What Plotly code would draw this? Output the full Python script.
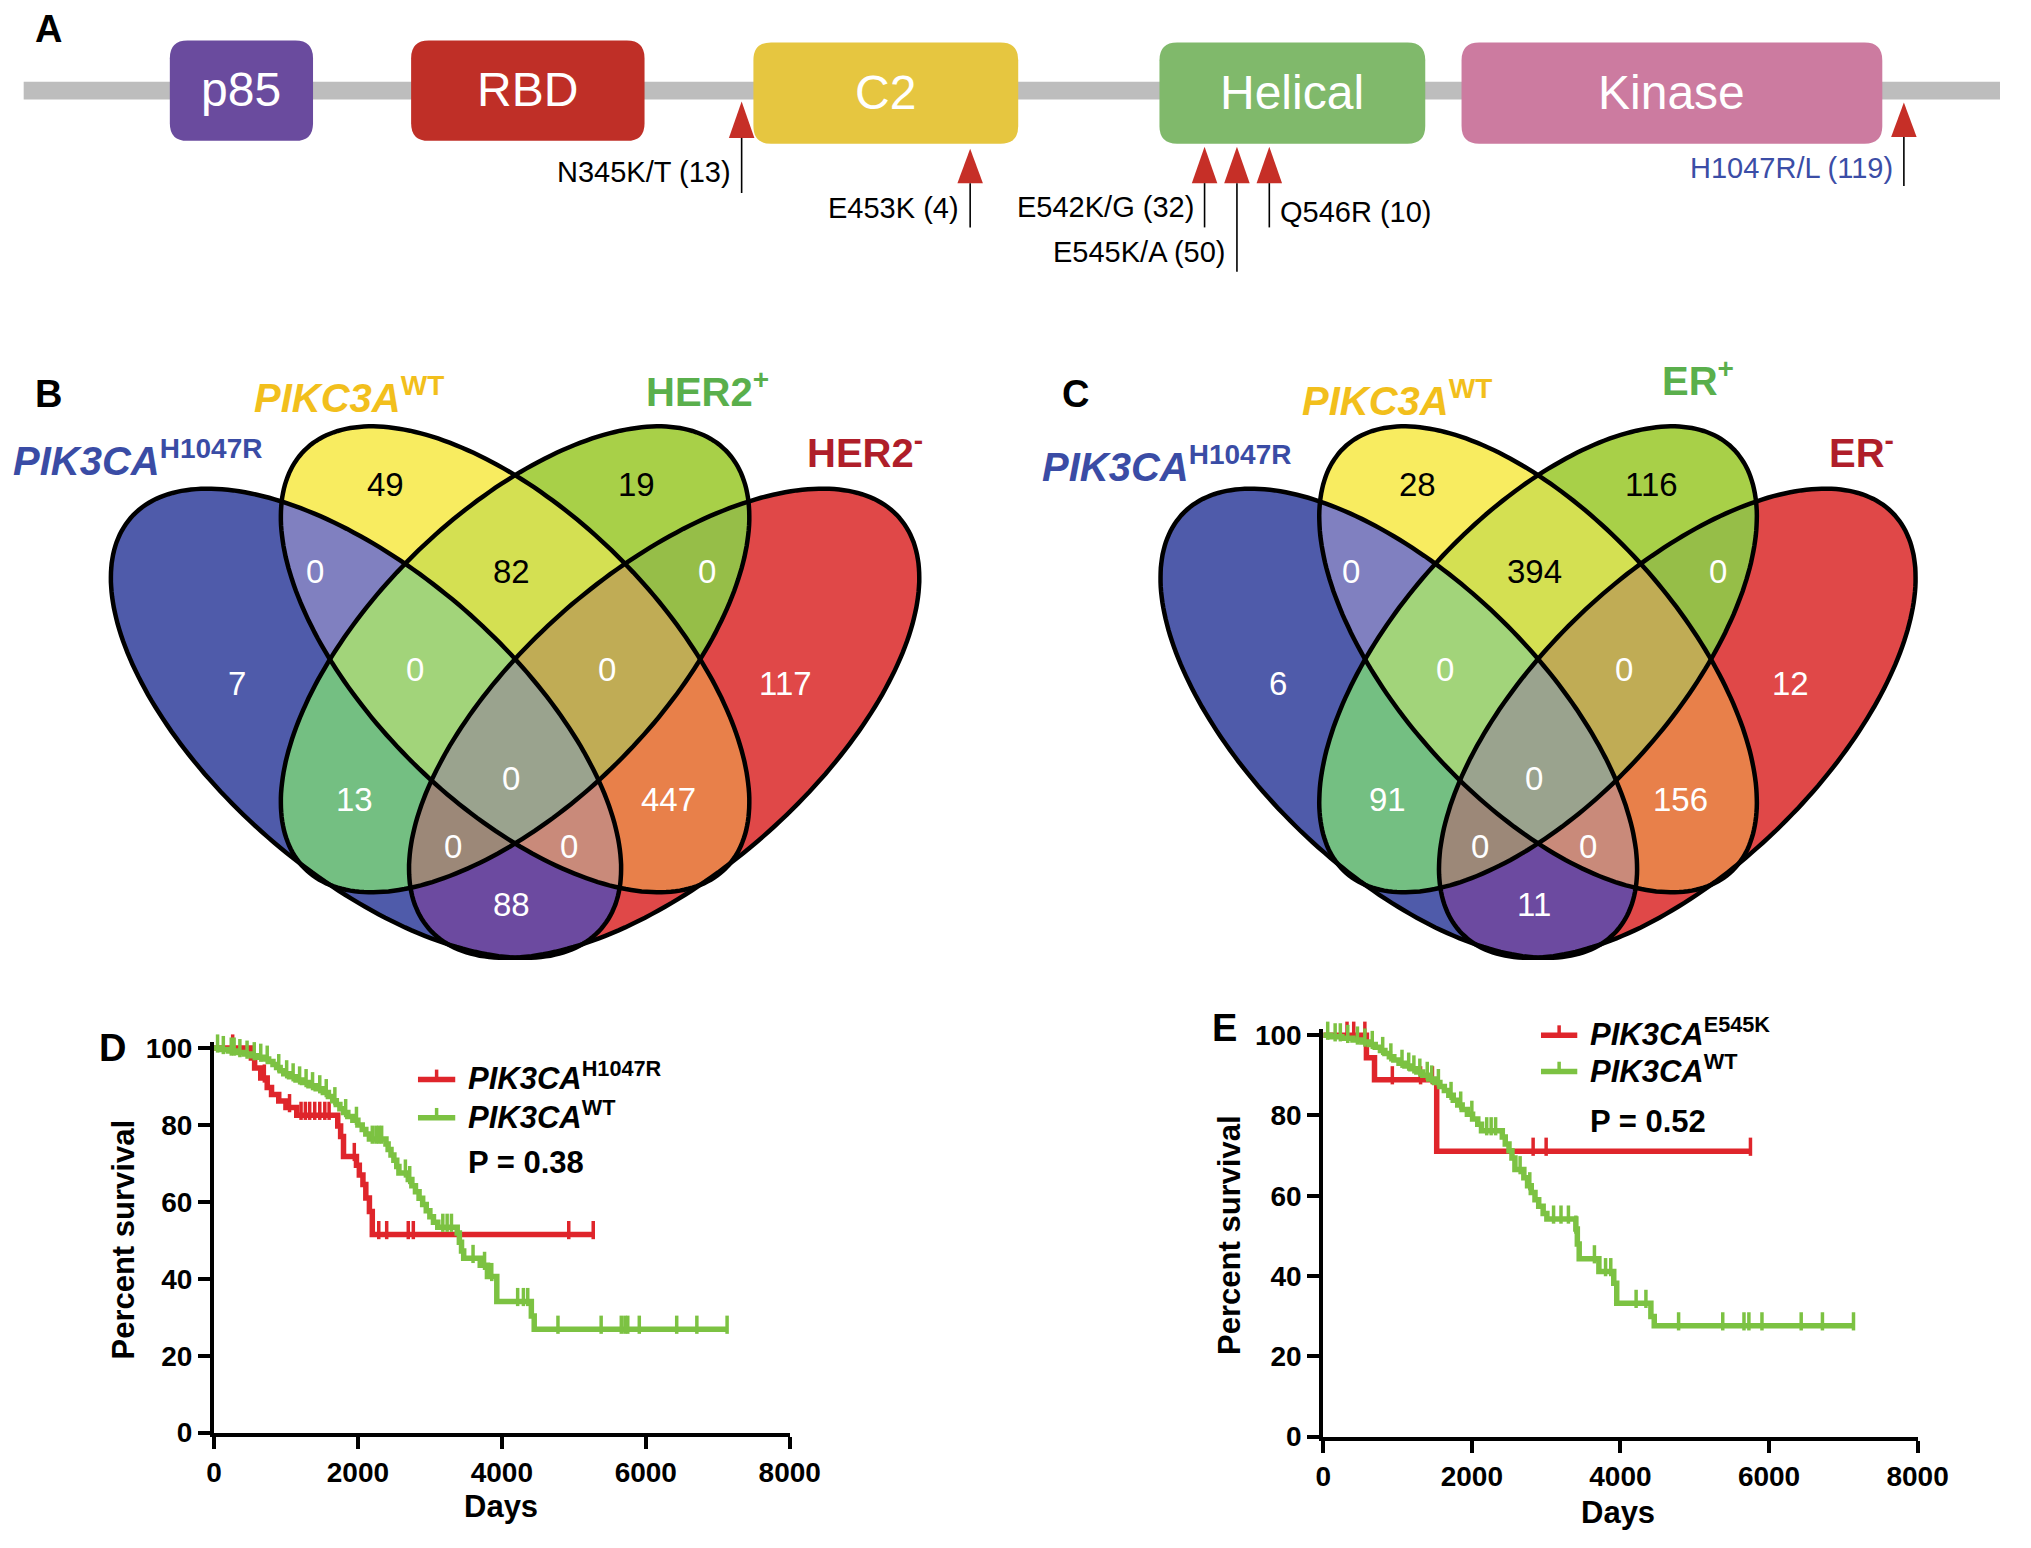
import numpy as np
import plotly.graph_objects as go

W, H = 2031, 1548
FONT = "Liberation Sans, Arial, Helvetica, sans-serif"

# ======================= DATA =======================
# Panel A: PIK3CA protein domains and hotspot mutations (count of patients)
domain_names = ["p85", "RBD", "C2", "Helical", "Kinase"]
mutation_names = ["N345K/T", "E453K", "E542K/G", "E545K/A", "Q546R", "H1047R/L"]
mutation_counts = [13, 4, 32, 50, 10, 119]

# Panels B / C: Venn region counts; region code bits: 1=PIK3CA-H1047R, 2=WT, 4=HER2+/ER+, 8=HER2-/ER-
venn_codes = [1, 2, 4, 8, 3, 6, 12, 7, 14, 5, 10, 15, 13, 11, 9]
venn_b_counts = [7, 49, 19, 117, 0, 82, 0, 0, 0, 13, 447, 0, 0, 0, 88]
venn_c_counts = [6, 28, 116, 12, 0, 394, 0, 0, 0, 91, 156, 0, 0, 0, 11]
venn_b_sets = ["<b><i>PIK3CA</i><sup>H1047R</sup></b>", "<b><i>PIKC3A</i><sup>WT</sup></b>",
               "<b>HER2<sup>+</sup></b>", "<b>HER2<sup>-</sup></b>"]
venn_c_sets = ["<b><i>PIK3CA</i><sup>H1047R</sup></b>", "<b><i>PIKC3A</i><sup>WT</sup></b>",
               "<b>ER<sup>+</sup></b>", "<b>ER<sup>-</sup></b>"]

# Panel D: Kaplan-Meier, PIK3CA H1047R vs WT (days, percent survival after each event)
d_mut_times = [520, 565, 650, 740, 800, 900, 1000, 1150, 1720, 1760, 1800, 1980, 2020, 2070, 2110, 2160, 2200]
d_mut_surv = [97.4, 94.8, 92.2, 89.7, 87.9, 86.2, 84.5, 82.5, 79.7, 77.0, 71.8, 69.5, 67.0, 64.5, 61.0, 57.5, 51.5]
d_mut_censor = [260, 700, 1050, 1210, 1270, 1330, 1400, 1470, 1540, 1600, 1950, 2290, 2400, 2700, 2770, 4930, 5270]

d_wt_times = [100, 200, 320, 420, 520, 620, 700, 760, 820, 870, 920, 970, 1050, 1140, 1230, 1320, 1420, 1520,
              1590, 1650, 1700, 1750, 1800, 1860, 1930, 2000, 2060, 2110, 2160, 2390, 2420, 2460, 2500, 2540,
              2570, 2700, 2750, 2800, 2850, 2900, 2950, 3000, 3050, 3110, 3380, 3410, 3440, 3470, 3700, 3800,
              3930, 4410, 4450]
d_wt_surv = [99.6, 99.2, 98.8, 98.4, 98.0, 97.6, 97.1, 96.5, 95.7, 94.9, 94.1, 93.3, 92.5, 91.7, 91.0, 90.2,
             89.4, 88.4, 87.4, 86.3, 85.3, 84.2, 83.2, 82.2, 81.2, 80.0, 78.8, 77.6, 76.3, 75.0, 73.6, 72.2,
             70.8, 69.2, 67.5, 65.8, 64.2, 62.6, 60.9, 59.3, 57.7, 56.1, 54.7, 53.4, 51.9, 49.5, 47.2, 45.3,
             43.5, 40.6, 34.1, 30.3, 26.9]
d_wt_censor = [50, 130, 240, 280, 360, 460, 560, 650, 740, 900, 1010, 1100, 1190, 1280, 1370, 1470, 1560, 1680,
               1830, 1980, 2200, 2250, 2290, 2330, 2660, 2720, 3180, 3240, 3300, 3600, 3760, 3860, 4220, 4300,
               4360, 4780, 5380, 5660, 5710, 5750, 5910, 6430, 6710, 7130]

# Panel E: Kaplan-Meier, PIK3CA E545K vs WT
e_mut_times = [581, 690, 1527]
e_mut_surv = [94.4, 88.9, 71.1]
e_mut_censor = [320, 410, 560, 930, 1310, 1470, 2825, 3000, 5750]

e_wt_times = [100, 250, 400, 520, 620, 700, 770, 830, 890, 950, 1020, 1100, 1180, 1260, 1340, 1420, 1500, 1570,
              1630, 1690, 1750, 1810, 1870, 1940, 2010, 2080, 2130, 2410, 2450, 2500, 2540, 2580, 2700, 2750,
              2800, 2850, 2900, 2960, 3010, 3400, 3420, 3445, 3710, 3910, 3950, 4410, 4455]
e_wt_surv = [99.6, 99.2, 98.8, 98.3, 97.7, 97.0, 96.2, 95.4, 94.6, 93.8, 93.0, 92.3, 91.6, 90.8, 90.0, 89.1,
             88.2, 87.2, 86.2, 85.0, 83.8, 82.6, 81.5, 80.3, 79.1, 77.8, 76.2, 74.6, 72.9, 71.2, 69.4, 66.5,
             64.5, 62.5, 60.8, 59.0, 57.4, 55.6, 54.2, 51.7, 48.0, 44.3, 41.1, 38.2, 33.2, 29.9, 27.6]
e_wt_censor = [60, 160, 230, 330, 460, 560, 660, 800, 910, 1060, 1150, 1220, 1300, 1400, 1460, 1550, 1720, 1850,
               2000, 2200, 2260, 2320, 2650, 2780, 3100, 3200, 3300, 3400, 3650, 3800, 3870, 4211, 4343, 4783,
               5377, 5663, 5729, 5905, 6433, 6719, 7137]

x_ticks = [0, 2000, 4000, 6000, 8000]
y_ticks = [0, 20, 40, 60, 80, 100]

# ======================= LAYOUT / STYLE =======================
RED = "#DF252B"
GREEN = "#7CC242"

domain_boxes = [(165, 32, 311, 134), (411, 32, 649, 134), (760, 34, 1030, 137),
                (1174, 34, 1445, 137), (1482, 34, 1911, 137)]
domain_colors = ["#6A4B9E", "#BF2F27", "#E6C640", "#80B96B", "#CC7BA0"]

mut_x = [748, 981, 1220, 1253, 1286, 1933]
mut_tri = [(94, 131), (142, 177), (140, 177), (140, 177), (140, 177), (95, 130)]
mut_stem_end = [187, 222, 222, 267, 222, 180]
mut_label_side = ["right", "right", "right", "right", "left", "right"]
mut_label_y = [166, 202, 201, 247, 206, 162]
mut_label_color = ["black"] * 5 + ["#3B4DA6"]

# Venn geometry in a frame centred on x=0 (pixels)
ellipses = [
    dict(cx=-152, cy=726, a=318, b=153, ang=41.0),
    dict(cx=0, cy=661, a=302, b=148, ang=44.6),
    dict(cx=0, cy=661, a=302, b=148, ang=-44.6),
    dict(cx=152, cy=726, a=318, b=153, ang=-41.0),
]
region_colors = {0: "#FFFFFF", 1: "#4F5BAA", 2: "#F8EC60", 3: "#8080C0", 4: "#A8D048", 5: "#74BF82",
                 6: "#D4E052", 7: "#A2D47A", 8: "#E04848", 9: "#6C4AA0", 10: "#E8804A", 11: "#C98A7A",
                 12: "#96BE48", 13: "#9C8878", 14: "#C0AC55", 15: "#9AA38E"}
label_rel = {1: (-284, 686), 2: (-132, 483), 4: (124, 483), 8: (276, 686), 3: (-204, 572), 6: (-4, 572),
             12: (196, 572), 7: (-102, 671), 14: (94, 671), 5: (-164, 803), 10: (156, 803), 15: (-4, 782),
             13: (-63, 851), 11: (55, 851), 9: (-4, 910)}
venn_panels = [
    dict(pcx=517, sx=1.0, counts=venn_b_counts, sets=venn_b_sets,
         set_pos=[(3, 456), (249, 392), (648, 386), (813, 448)]),
    dict(pcx=1560, sx=0.934, counts=venn_c_counts, sets=venn_c_sets,
         set_pos=[(1052, 462), (1317, 395), (1684, 375), (1855, 448)]),
]
set_colors = ["#3A4CA5", "#F2BF1C", "#5AAF4C", "#AF1E2A"]

km_panels = [
    dict(x0=210, x1=797, y0=1447, ppp=3.91),
    dict(x0=1341, x1=1947, y0=1451, ppp=4.08),
]
Y_TOP = 101.5

fig = go.Figure()
shapes = []
ann = []


def canvas_ann(x, y, text, size, color="black", xanchor="center", yanchor="middle", angle=0, family=FONT):
    ann.append(dict(x=x, y=y, xref="x3", yref="y3", text=text, showarrow=False, xanchor=xanchor,
                    yanchor=yanchor, textangle=angle,
                    font=dict(family=family, size=size, color=color)))


def rrect(x0, y0, x1, y1, r):
    return (f"M{x0 + r},{y0} L{x1 - r},{y0} Q{x1},{y0} {x1},{y0 + r} L{x1},{y1 - r} Q{x1},{y1} {x1 - r},{y1} "
            f"L{x0 + r},{y1} Q{x0},{y1} {x0},{y1 - r} L{x0},{y0 + r} Q{x0},{y0} {x0 + r},{y0} Z")


# ---------------- Panel A ----------------
shapes.append(dict(type="rect", xref="x3", yref="y3", x0=16, x1=W, y0=74, y1=92,
                   fillcolor="#BDBDBD", line=dict(width=0), layer="below"))
for name, (x0, y0, x1, y1), col in zip(domain_names, domain_boxes, domain_colors):
    shapes.append(dict(type="path", xref="x3", yref="y3", path=rrect(x0, y0, x1, y1, 18),
                       fillcolor=col, line=dict(width=0), layer="below"))
    canvas_ann((x0 + x1) / 2, (y0 + y1) / 2 - 1, name, 48, "white")

for name, cnt, x, (ta, tb), se, side, ly, lc in zip(mutation_names, mutation_counts, mut_x, mut_tri,
                                                    mut_stem_end, mut_label_side, mut_label_y, mut_label_color):
    shapes.append(dict(type="path", xref="x3", yref="y3", path=f"M{x - 13},{tb} L{x},{ta} L{x + 13},{tb} Z",
                       fillcolor="#C62F27", line=dict(width=0)))
    shapes.append(dict(type="line", xref="x3", yref="y3", x0=x, x1=x, y0=tb, y1=se,
                       line=dict(color="black", width=1.6)))
    if side == "right":
        canvas_ann(x - 9, ly, f"{name} ({cnt})", 29, lc, xanchor="right")
    else:
        canvas_ann(x + 9, ly, f"{name} ({cnt})", 29, lc, xanchor="left")

# ---------------- Panels B, C (Venn) ----------------
nreg = 16
cscale = []
for k in range(nreg):
    cscale.append([k / nreg, region_colors[k]])
    cscale.append([(k + 1) / nreg, region_colors[k]])

for p in venn_panels:
    pcx, sx = p["pcx"], p["sx"]
    gx0 = int(pcx - 440 * sx)
    gx1 = int(pcx + 440 * sx)
    gy0, gy1 = 405, 990
    xs = np.arange(gx0, gx1) + 0.5
    ys = np.arange(gy0, gy1) + 0.5
    X, Y = np.meshgrid(xs, ys)
    code = np.zeros(X.shape, dtype=np.uint8)
    for bit, e in zip([1, 2, 4, 8], ellipses):
        xr = (X - pcx) / sx
        dx = xr - e["cx"]
        dy = Y - e["cy"]
        th = np.radians(e["ang"])
        u = dx * np.cos(th) + dy * np.sin(th)
        v = -dx * np.sin(th) + dy * np.cos(th)
        inside = (u / e["a"]) ** 2 + (v / e["b"]) ** 2 <= 1.0
        code = code + (inside.astype(np.uint8) * bit)
    fig.add_trace(go.Heatmap(z=code, x0=gx0 + 0.5, dx=1, y0=gy0 + 0.5, dy=1, xaxis="x3", yaxis="y3",
                             colorscale=cscale, zmin=-0.5, zmax=15.5, showscale=False, hoverinfo="skip",
                             zsmooth=False))
    for e in ellipses:
        t = np.linspace(0, 2 * np.pi, 241)
        th = np.radians(e["ang"])
        xr = e["cx"] + e["a"] * np.cos(t) * np.cos(th) - e["b"] * np.sin(t) * np.sin(th)
        yy = e["cy"] + e["a"] * np.cos(t) * np.sin(th) + e["b"] * np.sin(t) * np.cos(th)
        xx = pcx + sx * xr
        path = "M" + " L".join(f"{a:.1f},{b:.1f}" for a, b in zip(xx, yy)) + " Z"
        shapes.append(dict(type="path", xref="x3", yref="y3", path=path,
                           line=dict(color="black", width=4.5), fillcolor="rgba(0,0,0,0)", layer="above"))
    for c, n in zip(venn_codes, p["counts"]):
        rx, ry = label_rel[c]
        col = "black" if c in (2, 4, 6) else "white"
        canvas_ann(pcx + sx * rx, ry, str(n), 33, col)
    for txt, (sx_, sy_), col in zip(p["sets"], p["set_pos"], set_colors):
        canvas_ann(sx_, sy_, txt, 40, col, xanchor="left")

# ---------------- Panels D, E (Kaplan-Meier) ----------------
km_data = [
    [(d_mut_times, d_mut_surv, d_mut_censor, RED), (d_wt_times, d_wt_surv, d_wt_censor, GREEN)],
    [(e_mut_times, e_mut_surv, e_mut_censor, RED), (e_wt_times, e_wt_surv, e_wt_censor, GREEN)],
]
axis_names = [("x", "y"), ("x2", "y2")]
for (xa, ya), geo, curves in zip(axis_names, km_panels, km_data):
    lift = 4.5 / geo["ppp"]
    for times, surv, cens, col in curves:
        t_end = max(cens[-1], times[-1])
        xs = [0] + list(times) + [t_end]
        ys = [100] + list(surv) + [surv[-1]]
        fig.add_trace(go.Scatter(x=xs, y=ys, mode="lines", line=dict(shape="hv", color=col, width=5.5),
                                 xaxis=xa, yaxis=ya, hoverinfo="skip"))
        idx = np.searchsorted(np.array(times), np.array(cens), side="right") - 1
        sv = np.where(idx < 0, 100.0, np.array(surv)[np.clip(idx, 0, None)])
        fig.add_trace(go.Scatter(x=cens, y=sv + lift, mode="markers", xaxis=xa, yaxis=ya, cliponaxis=False,
                                 marker=dict(symbol="line-ns", size=13, color=col,
                                             line=dict(color=col, width=3.5)),
                                 hoverinfo="skip"))

axis_common = dict(showgrid=False, zeroline=False, showline=True, linecolor="black", linewidth=4,
                   ticks="outside", ticklen=12, tickwidth=3.5, tickcolor="black",
                   tickfont=dict(family=FONT, size=28, color="black", weight="bold"), fixedrange=True)
layout_axes = {}
for i, ((xa, ya), geo) in enumerate(zip(axis_names, km_panels)):
    top_px = geo["y0"] - Y_TOP * geo["ppp"]
    xd = [geo["x0"] / W, geo["x1"] / W]
    yd = [1 - geo["y0"] / H, 1 - top_px / H]
    xkey = "xaxis" if i == 0 else "xaxis2"
    ykey = "yaxis" if i == 0 else "yaxis2"
    layout_axes[xkey] = dict(domain=xd, range=[0, 8000], anchor=ya, tickvals=x_ticks,
                             ticktext=[str(v) for v in x_ticks], **axis_common)
    layout_axes[ykey] = dict(domain=yd, range=[0, Y_TOP], anchor=xa, tickvals=y_ticks,
                             ticktext=[str(v) for v in y_ticks], **axis_common)

# KM titles and legends
canvas_ann(118, 1251, "<b>Percent survival</b>", 31, angle=-90)
canvas_ann(503, 1522, "<b>Days</b>", 31)
canvas_ann(1246, 1246, "<b>Percent survival</b>", 31, angle=-90)
canvas_ann(1642, 1528, "<b>Days</b>", 31)

legends = [
    dict(x0=418, x1=456, ys=[1088, 1127], tx=467,
         labels=["<b><i>PIK3CA</i><sup>H1047R</sup></b>", "<b><i>PIK3CA</i><sup>WT</sup></b>"],
         p=("<b>P = 0.38</b>", 1172)),
    dict(x0=1563, x1=1600, ys=[1043, 1080], tx=1611,
         labels=["<b><i>PIK3CA</i><sup>E545K</sup></b>", "<b><i>PIK3CA</i><sup>WT</sup></b>"],
         p=("<b>P = 0.52</b>", 1131)),
]
for lg in legends:
    for yv, col, lab in zip(lg["ys"], [RED, GREEN], lg["labels"]):
        shapes.append(dict(type="line", xref="x3", yref="y3", x0=lg["x0"], x1=lg["x1"], y0=yv, y1=yv,
                           line=dict(color=col, width=5.5)))
        xm = (lg["x0"] + lg["x1"]) / 2
        shapes.append(dict(type="line", xref="x3", yref="y3", x0=xm, x1=xm, y0=yv, y1=yv - 10,
                           line=dict(color=col, width=3.5)))
        canvas_ann(lg["tx"], yv - 3, lab, 31, xanchor="left")
    canvas_ann(lg["tx"], lg["p"][1], lg["p"][0], 31, xanchor="left")

# panel letters
for letter, (x, y) in zip("ABCDE", [(41, 20), (41, 391), (1088, 391), (107, 1056), (1240, 1036)]):
    canvas_ann(x, y, f"<b>{letter}</b>", 38)

fig.update_layout(
    width=W, height=H, margin=dict(l=0, r=0, t=0, b=0, pad=0),
    paper_bgcolor="white", plot_bgcolor="rgba(0,0,0,0)", showlegend=False,
    xaxis3=dict(domain=[0, 1], range=[0, W], visible=False, anchor="y3", fixedrange=True),
    yaxis3=dict(domain=[0, 1], range=[H, 0], visible=False, anchor="x3", fixedrange=True),
    shapes=shapes, annotations=ann, **layout_axes,
)

fig.write_html("out.html", config={"displayModeBar": False},
               post_script="document.body.style.margin='0';document.body.style.overflow='hidden';")
